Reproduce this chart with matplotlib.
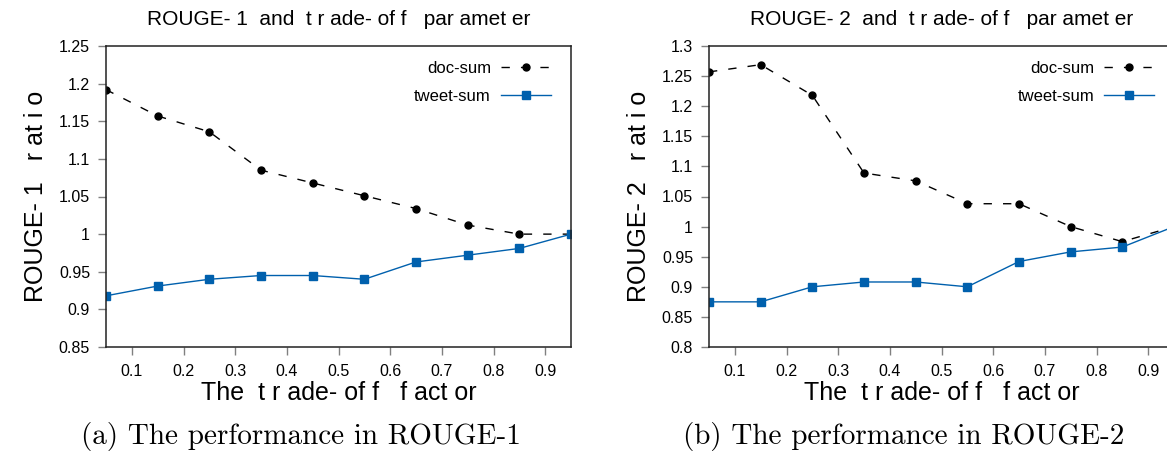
import numpy as np
import matplotlib
matplotlib.use("Agg")
import matplotlib.pyplot as plt

plt.rcParams['font.family'] = ['Liberation Sans', 'DejaVu Sans']

# trade-off factor values
trade_off = [0.05, 0.15, 0.25, 0.35, 0.45, 0.55, 0.65, 0.75, 0.85, 0.95]

# ROUGE-1 ratio
r1_doc = [1.192, 1.157, 1.136, 1.085, 1.068, 1.051, 1.034, 1.012, 1.000, 1.000]
r1_tweet = [0.918, 0.931, 0.940, 0.945, 0.945, 0.940, 0.963, 0.972, 0.981, 1.000]

# ROUGE-2 ratio
r2_doc = [1.257, 1.269, 1.218, 1.089, 1.076, 1.038, 1.038, 1.000, 0.975, 1.000]
r2_tweet = [0.875, 0.875, 0.900, 0.908, 0.908, 0.900, 0.942, 0.958, 0.966, 1.000]

x_ticks = [0.1, 0.2, 0.3, 0.4, 0.5, 0.6, 0.7, 0.8, 0.9]
r1_yticks = [0.85, 0.9, 0.95, 1.0, 1.05, 1.1, 1.15, 1.2, 1.25]
r2_yticks = [0.8, 0.85, 0.9, 0.95, 1.0, 1.05, 1.1, 1.15, 1.2, 1.25, 1.3]

BLUE = '#0060ad'


def fmt(v):
    s = '%g' % v
    return s


def panel(ax, doc, tweet, yticks, titulo, ylab):
    ax.plot(trade_off, doc, color='black', lw=1, dashes=(6, 8),
            marker='o', markersize=5, label='doc-sum')
    ax.plot(trade_off, tweet, color=BLUE, lw=1,
            marker='s', markersize=5.5, label='tweet-sum')
    ax.set_xlim(0.05, 0.95)
    ax.set_ylim(yticks[0], yticks[-1])
    ax.set_xticks(x_ticks)
    ax.set_xticklabels([fmt(v) for v in x_ticks])
    ax.set_yticks(yticks)
    ax.set_yticklabels([fmt(v) for v in yticks])
    ax.tick_params(direction='out', length=5.5, width=1, color='#808080',
                   labelsize=11.5, top=False, right=False)
    ax.tick_params(axis='x', pad=7)
    ax.tick_params(axis='y', pad=6)
    for sp in ax.spines.values():
        sp.set_linewidth(1.1)
        sp.set_color('#222222')
    ax.set_title(titulo, fontsize=15, pad=15)
    ax.set_xlabel('The  t r ade- of f   f act or', fontsize=18, labelpad=1)
    ax.set_ylabel(ylab, fontsize=18, labelpad=8)
    ax.legend(loc='upper right', bbox_to_anchor=(1 - 20 / 465, 1 - 15 / 301),
              frameon=False, markerfirst=False, fontsize=12,
              handlelength=3.0, handletextpad=0.6, labelspacing=0.8,
              borderaxespad=0, borderpad=0)


fig = plt.figure(figsize=(11.67, 4.54), dpi=100)
ax1 = fig.add_axes([106 / 1167, 1 - 347 / 454, 465 / 1167, 301 / 454])
ax2 = fig.add_axes([709 / 1167, 1 - 347 / 454, 465 / 1167, 301 / 454])

panel(ax1, r1_doc, r1_tweet, r1_yticks,
      'ROUGE- 1  and  t r ade- of f   par amet er', 'ROUGE- 1   r at i o')
panel(ax2, r2_doc, r2_tweet, r2_yticks,
      'ROUGE- 2  and  t r ade- of f   par amet er', 'ROUGE- 2   r at i o')

fig.text(301 / 1167, 1 - 444 / 454, '(a) The performance in ROUGE-1',
         family='cmr10', fontsize=21, ha='center', va='baseline')
fig.text(904 / 1167, 1 - 444 / 454, '(b) The performance in ROUGE-2',
         family='cmr10', fontsize=21, ha='center', va='baseline')

fig.savefig('out.png', dpi=100)
